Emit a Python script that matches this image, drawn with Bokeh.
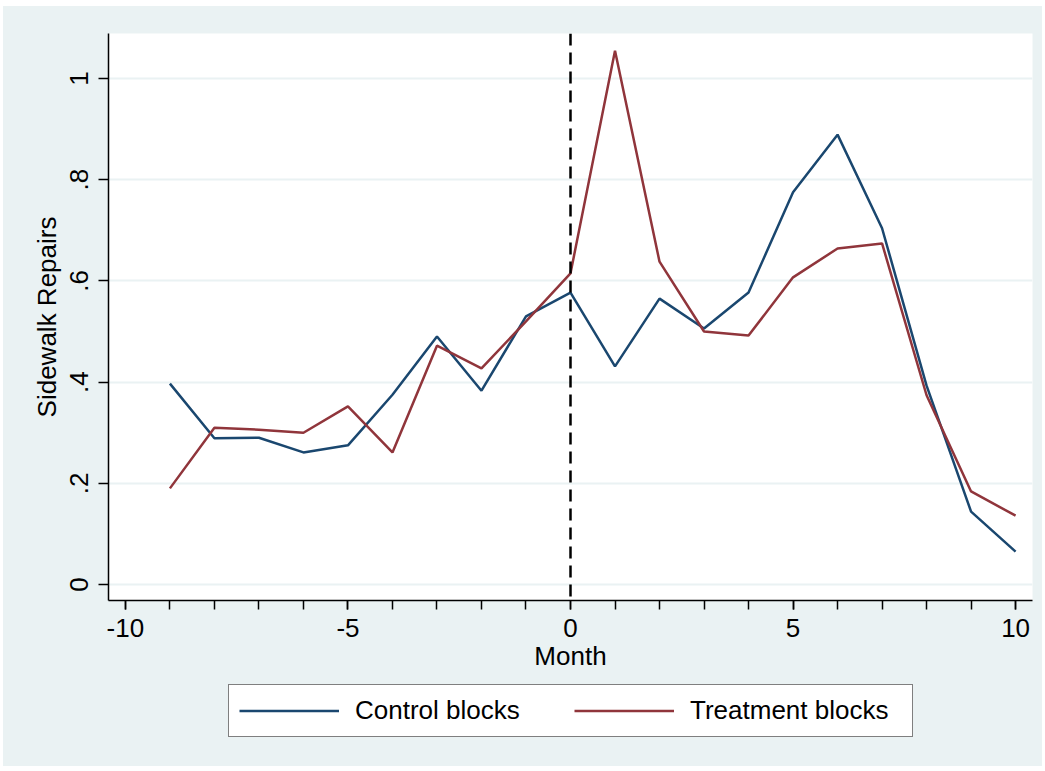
from bokeh.plotting import figure
from bokeh.layouts import column
from bokeh.models import Range1d, FixedTicker, Span, Legend, LegendItem
from bokeh.embed import file_html
from bokeh.resources import INLINE

months = list(range(-9, 11))
control = [0.397, 0.289, 0.290, 0.261, 0.275, 0.375, 0.490, 0.383, 0.530, 0.577,
           0.431, 0.565, 0.506, 0.577, 0.775, 0.889, 0.704, 0.393, 0.144, 0.065]
treatment = [0.190, 0.310, 0.306, 0.300, 0.352, 0.261, 0.472, 0.427, 0.520, 0.615,
             1.055, 0.638, 0.500, 0.492, 0.607, 0.664, 0.674, 0.374, 0.184, 0.136]
x_ticks = [-10, -5, 0, 5, 10]
x_tick_labels = ["-10", "-5", "0", "5", "10"]
x_minor = list(range(-10, 11))
y_ticks = [0, 0.2, 0.4, 0.6, 0.8, 1.0]
y_tick_labels = ["0", ".2", ".4", ".6", ".8", "1"]
series_names = ["Control blocks", "Treatment blocks"]

BG = "#EAF2F3"
NAVY = "#1a476f"
MAROON = "#90353b"
FONT = "Liberation Sans"
FS = "26px"

p = figure(width=1039, height=678, output_backend="svg", toolbar_location=None,
           x_range=Range1d(-10.38, 10.38), y_range=Range1d(-0.0316, 1.0889),
           min_border_left=105, min_border_right=10, min_border_top=27,
           min_border_bottom=84)
p.border_fill_color = BG
p.background_fill_color = "white"
p.outline_line_color = None

# grid
p.xgrid.visible = False
p.ygrid.grid_line_color = BG
p.ygrid.grid_line_width = 2
p.ygrid.ticker = FixedTicker(ticks=y_ticks)

# x axis
xa = p.xaxis[0]
xa.ticker = FixedTicker(ticks=x_ticks, minor_ticks=x_minor)
xa.major_label_overrides = {t: l for t, l in zip(x_ticks, x_tick_labels)}
xa.axis_label = "Month"
xa.major_tick_out = 9
xa.major_tick_in = 0
xa.minor_tick_out = 9
xa.minor_tick_in = 0
xa.major_label_standoff = 9
xa.axis_label_standoff = 1

# y axis
ya = p.yaxis[0]
ya.ticker = FixedTicker(ticks=y_ticks)
ya.major_label_overrides = {t: l for t, l in zip(y_ticks, y_tick_labels)}
ya.axis_label = "Sidewalk Repairs"
ya.major_tick_out = 10
ya.major_tick_in = 0
ya.minor_tick_line_color = None
ya.major_label_orientation = "vertical"
ya.major_label_standoff = 10
ya.axis_label_standoff = 6

for ax in (xa, ya):
    ax.axis_line_color = "black"
    ax.axis_line_width = 1.5
    ax.major_tick_line_color = "black"
    ax.major_tick_line_width = 1.5
    ax.minor_tick_line_width = 1.5
    ax.major_label_text_font = FONT
    ax.major_label_text_font_size = FS
    ax.major_label_text_color = "black"
    ax.axis_label_text_font = FONT
    ax.axis_label_text_font_size = FS
    ax.axis_label_text_font_style = "normal"
    ax.axis_label_text_color = "black"
xa.minor_tick_line_color = "black"

# vertical dashed line at month 0
p.add_layout(Span(location=0, dimension="height", line_color="black",
                  line_dash="12 7", line_width=2.5))

p.line(months, control, line_color=NAVY, line_width=2.5)
p.line(months, treatment, line_color=MAROON, line_width=2.5)

# legend strip below the chart
pl = figure(width=1039, height=82, output_backend="svg", toolbar_location=None,
            x_range=Range1d(0, 1), y_range=Range1d(0, 1),
            x_axis_type=None, y_axis_type=None, min_border=0)
pl.border_fill_color = BG
pl.background_fill_color = BG
pl.outline_line_color = None
pl.xgrid.visible = False
pl.ygrid.visible = False
# keys for the legend only (drawn outside the visible range)
g1 = pl.line([5, 6], [5, 5], line_color=NAVY, line_width=2.5)
g2 = pl.line([5, 6], [5, 5], line_color=MAROON, line_width=2.5)

legend = Legend(items=[LegendItem(label=series_names[0], renderers=[g1]),
                       LegendItem(label=series_names[1], renderers=[g2])],
                location=(120, 29), orientation="horizontal",
                label_text_font=FONT, label_text_font_size=FS,
                label_text_color="black",
                glyph_width=100, glyph_height=31, label_height=31,
                label_width=212, label_standoff=16, spacing=7, padding=10,
                margin=0,
                border_line_color="black", border_line_width=1.5,
                background_fill_color="white", background_fill_alpha=1.0)
pl.add_layout(legend, "center")

layout = column(p, pl, spacing=0, margin=(6, 0, 0, 3),
                styles={"background-color": BG})
open("out.html", "w").write(file_html(layout, INLINE))
